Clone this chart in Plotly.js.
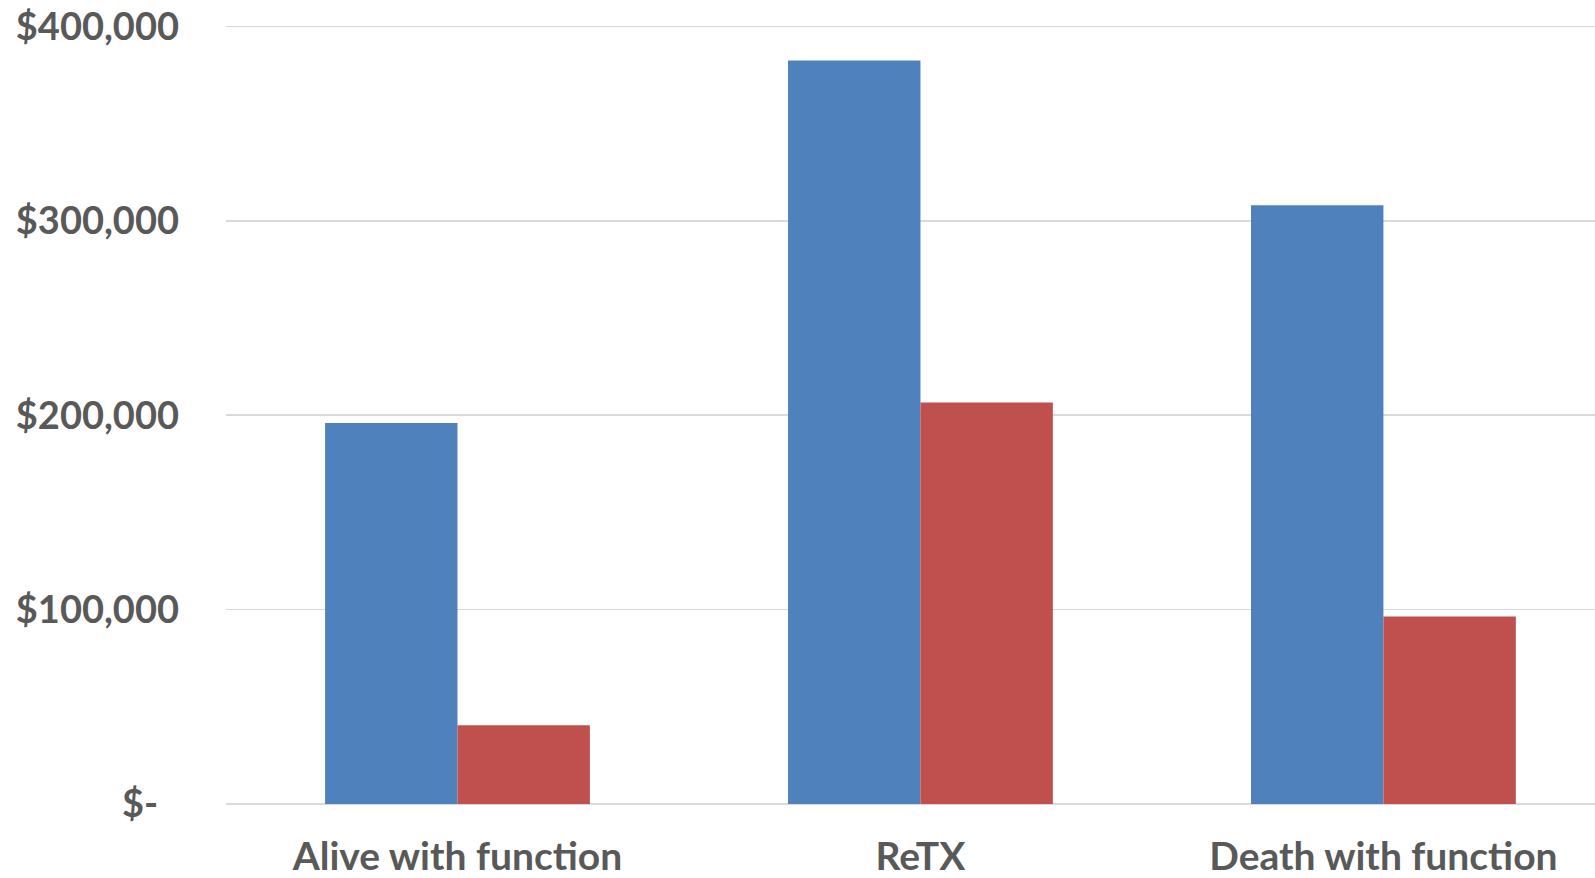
<!DOCTYPE html>
<html>
<head>
<meta charset="utf-8">
<script src="https://cdn.plot.ly/plotly-3.0.1.min.js"></script>
<style>
html,body{margin:0;padding:0;background:#fff;}
#chart{width:1595px;height:878px;}
</style>
</head>
<body>
<div id="chart"></div>
<script>
var categories = ["Alive with function", "ReTX", "Death with function"];
var seriesA = [196000, 382500, 308000];
var seriesB = [40500, 206500, 96500];
var yTickVals = [0, 100000, 200000, 300000, 400000];
var yTickText = ["$-\u00a0\u00a0\u200a", "$100,000", "$200,000", "$300,000", "$400,000"];

var traces = [
  {type: "bar", x: categories, y: seriesA, name: "A",
   marker: {color: "#4F81BD", line: {width: 0}}, hoverinfo: "none"},
  {type: "bar", x: categories, y: seriesB, name: "B",
   marker: {color: "#C0504D", line: {width: 0}}, hoverinfo: "none"}
];

var layout = {
  width: 1595, height: 878,
  margin: {l: 226, r: 0, t: 7, b: 74, pad: 0},
  paper_bgcolor: "#ffffff", plot_bgcolor: "#ffffff",
  showlegend: false,
  barmode: "group",
  bargap: 0.428,
  bargroupgap: 0,
  font: {family: "Lato, 'Open Sans', sans-serif", color: "#595959"},
  xaxis: {
    type: "category",
    range: [-0.5, 2.457],
    showgrid: false, showline: false, zeroline: false,
    ticks: "",
    ticklabelstandoff: 26,
    automargin: false,
    tickfont: {family: "Lato, sans-serif", size: 39, color: "#595959", weight: "bold"}
  },
  yaxis: {
    range: [0, 410000],
    tickvals: yTickVals, ticktext: yTickText,
    showgrid: true, gridcolor: "#d9d9d9", gridwidth: 1.5,
    zeroline: true, zerolinecolor: "#d9d9d9", zerolinewidth: 1.5,
    showline: false, ticks: "",
    ticklabelstandoff: 46,
    automargin: false,
    tickfont: {family: "Lato, sans-serif", size: 38, color: "#595959", weight: "bold"}
  }
};

Plotly.newPlot("chart", traces, layout, {displayModeBar: false, staticPlot: true});
</script>
</body>
</html>
